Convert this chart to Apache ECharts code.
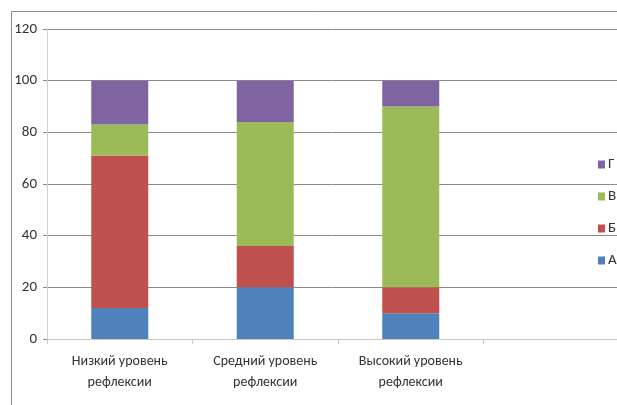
<!DOCTYPE html>
<html>
<head>
<meta charset="utf-8">
<script src="https://cdn.jsdelivr.net/npm/echarts@6/dist/echarts.min.js"></script>
<style>
  html, body { margin: 0; padding: 0; background: #fff; }
  #chart { width: 617px; height: 405px; }
</style>
</head>
<body>
<div id="chart"></div>
<script>
// Categories (the fourth slot is left empty, as in the original workbook layout)
const categories = ['Низкий уровень\nрефлексии', 'Средний уровень\nрефлексии', 'Высокий уровень\nрефлексии', ''];
const seriesNames = ['А', 'Б', 'В', 'Г'];
const valuesA = [12, 20, 10, null];
const valuesB = [59, 16, 10, null];
const valuesV = [12, 48, 70, null];
const valuesG = [17, 16, 10, null];
const yTicks = { min: 0, max: 120, interval: 20 };

const colors = ['#4F81BD', '#C0504D', '#9BBB59', '#8064A2'];
const font = "Carlito, 'Liberation Sans Narrow', 'Liberation Sans', sans-serif";
const seriesData = [valuesA, valuesB, valuesV, valuesG];

const chart = echarts.init(document.getElementById('chart'), null, { renderer: 'canvas' });
chart.setOption({
  animation: false,
  backgroundColor: '#fff',
  color: colors,
  textStyle: { fontFamily: font },
  graphic: [{
    type: 'rect',
    shape: { x: 11.5, y: 11.5, width: 700, height: 500 },
    style: { fill: 'none', stroke: '#8c8c8c', lineWidth: 1 },
    silent: true,
    z: 0
  }],
  // plot area runs past the right edge of the canvas
  grid: { left: 47, width: 582, top: 29, height: 310, containLabel: false, outerBoundsMode: 'none' },
  legend: {
    orient: 'vertical',
    left: 593,
    top: 152,
    data: ['Г', 'В', 'Б', 'А'],
    itemWidth: 7,
    itemHeight: 8,
    itemGap: 17,
    icon: 'rect',
    textStyle: { fontFamily: font, fontSize: 15, color: '#333', padding: [0, 0, 0, -2] }
  },
  xAxis: {
    type: 'category',
    data: categories,
    axisLine: { lineStyle: { color: '#c8c8c8', width: 1 } },
    axisTick: { show: true, length: 5, lineStyle: { color: '#c8c8c8' } },
    axisLabel: { fontFamily: font, fontSize: 14, color: '#333', lineHeight: 21, margin: 12 },
    splitLine: { show: false }
  },
  yAxis: {
    type: 'value',
    min: yTicks.min,
    max: yTicks.max,
    interval: yTicks.interval,
    axisLine: { show: true, lineStyle: { color: '#d0d0d0', width: 1 } },
    axisTick: { show: true, length: 4, lineStyle: { color: '#888' } },
    axisLabel: { fontFamily: font, fontSize: 15, color: '#333', margin: 10 },
    splitLine: { show: true, lineStyle: { color: '#8a8a8a', width: 1 } }
  },
  series: seriesNames.map((name, i) => ({
    name: name,
    type: 'bar',
    stack: 'total',
    data: seriesData[i],
    barWidth: 57,
    itemStyle: { color: colors[i] }
  }))
});
</script>
</body>
</html>
